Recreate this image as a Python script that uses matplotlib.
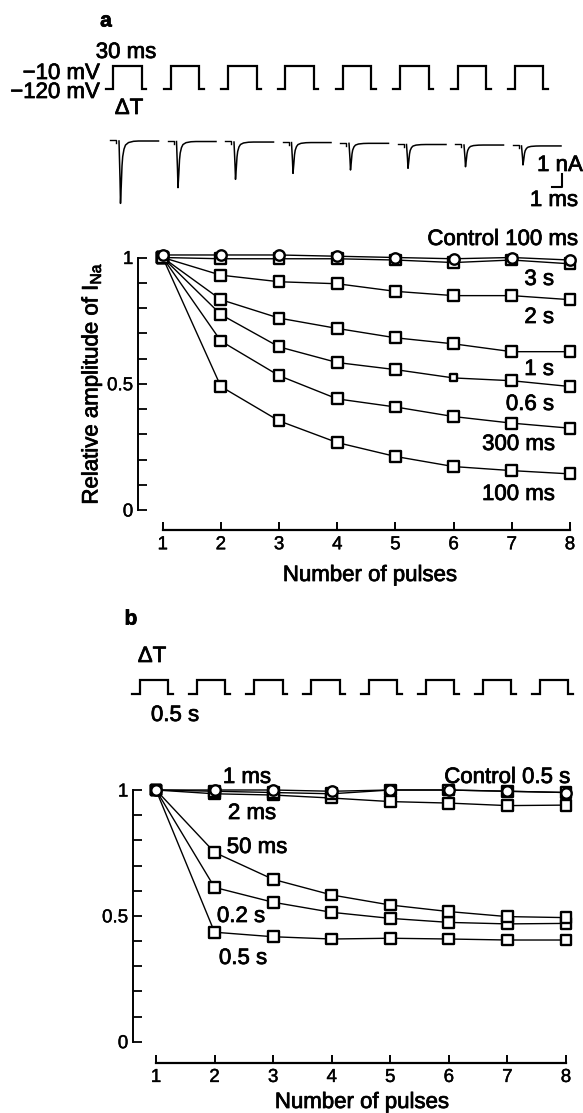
import matplotlib
matplotlib.use('Agg')
import matplotlib.pyplot as plt
import matplotlib.patheffects as pe
import numpy as np

plt.rcParams['font.family'] = ['Liberation Sans', 'DejaVu Sans']
plt.rcParams['mathtext.fontset'] = 'custom'
plt.rcParams['mathtext.rm'] = 'Liberation Sans'
plt.rcParams['mathtext.it'] = 'Liberation Sans:italic'
plt.rcParams['mathtext.bf'] = 'Liberation Sans:bold'

# ---------------- data ----------------
pulse_numbers = [1, 2, 3, 4, 5, 6, 7, 8]

# panel a : relative I_Na, interval between 30 ms pulses
a_control = [1.01, 1.01, 1.01, 1.005, 1.0, 0.995, 1.0, 0.99]
a_3s = [1.0, 0.995, 0.995, 0.995, 0.99, 0.98, 0.99, 0.975]
a_2s = [1.0, 0.930, 0.904, 0.896, 0.866, 0.849, 0.849, 0.833]
a_1s = [1.0, 0.833, 0.760, 0.719, 0.682, 0.658, 0.627, 0.627]
a_06s = [1.0, 0.774, 0.646, 0.584, 0.556, 0.523, 0.512, 0.489]
a_300ms = [1.0, 0.669, 0.532, 0.440, 0.408, 0.370, 0.344, 0.324]
a_100ms = [1.0, 0.489, 0.353, 0.267, 0.212, 0.172, 0.156, 0.143]

# panel b : relative I_Na, 0.5 s pulses with various intervals
b_control = [1.0, 1.0, 1.0, 0.995, 1.0, 1.0, 0.995, 0.99]
b_1ms = [1.0, 0.995, 0.99, 0.985, 1.0, 1.0, 0.995, 0.99]
b_2ms = [1.0, 0.985, 0.98, 0.968, 0.954, 0.948, 0.938, 0.94]
b_50ms = [1.0, 0.752, 0.645, 0.583, 0.543, 0.517, 0.497, 0.493]
b_02s = [1.0, 0.613, 0.554, 0.514, 0.490, 0.474, 0.468, 0.470]
b_05s = [1.0, 0.435, 0.417, 0.408, 0.411, 0.408, 0.404, 0.404]

# current traces (panel a inset)
peak_nA = [4.8, 3.55, 2.87, 2.37, 2.05, 1.83, 1.67, 1.46]
baseline_nA = [0.0, -0.04, -0.08, -0.12, -0.18, -0.27, -0.31, -0.38]
trace_t_ms = [-0.15, -0.05, 0.0, 0.08, 0.15, 0.22, 0.35, 0.5, 0.8, 1.3, 1.8, 3.8]
trace_shape = [0.0, -0.6, -1.0, -0.7, -0.4, -0.25, -0.13, -0.065, -0.025, -0.005, 0.0, 0.0]
trace_spacing_ms = 5.75

# voltage protocol
v_hold, v_test = -120, -10
pulse_width_ms = 30
pulse_interval_a = 60.4
pulse_interval_b = 60.6

# ---------------- figure ----------------
W, H = 583, 1113
fig = plt.figure(figsize=(W / 100, H / 100), dpi=100)
BOLDEN = [pe.withStroke(linewidth=0.55, foreground='black')]


def px_ax(left, top, right, bottom, xref, yref):
    ax = fig.add_axes([left / W, 1 - bottom / H, (right - left) / W, (bottom - top) / H])
    d0, p0, d1, p1 = xref
    s = (d1 - d0) / (p1 - p0)
    ax.set_xlim(d0 + (left - p0) * s, d0 + (right - p0) * s)
    d0, p0, d1, p1 = yref
    s = (d1 - d0) / (p1 - p0)
    ax.set_ylim(d0 + (bottom - p0) * s, d0 + (top - p0) * s)
    return ax


def ftxt(x, y, s, ha='center', size=16, **kw):
    fig.text(x / W, 1 - y / H, s, ha=ha, va='center_baseline', fontsize=size,
             path_effects=BOLDEN, **kw)


def pulse_train(ax, interval, n=8, pre=7.4, post=4.7):
    for k in range(n):
        t0 = k * interval
        xs = [t0 - pre, t0, t0, t0 + pulse_width_ms, t0 + pulse_width_ms, t0 + pulse_width_ms + post]
        ys = [v_hold, v_hold, v_test, v_test, v_hold, v_hold]
        ax.plot(xs, ys, color='black', lw=1.6, solid_joinstyle='miter')
    ax.axis('off')


# ---- pulse trains ----
axp_a = px_ax(0, 55, W, 100, (0, 113.3, 30, 141.8), (v_hold, 89.3, v_test, 65.7))
pulse_train(axp_a, pulse_interval_a)
axp_b = px_ax(0, 670, W, 705, (0, 140, 30, 168.3), (v_hold, 694, v_test, 680))
pulse_train(axp_b, pulse_interval_b, pre=8.5, post=5.0)

# ---- current traces ----
axt = px_ax(0, 125, W, 215, (0, 120.5, 1, 130.5), (0, 141, -1, 154))
tt = np.array(trace_t_ms)
sh = np.array(trace_shape)
for k in range(8):
    t0 = k * trace_spacing_ms
    axt.plot(t0 + tt, baseline_nA[k] + peak_nA[k] * sh, color='black', lw=1.1)
    axt.plot(t0 + np.array([-1.05, -0.45, -0.45]),
             baseline_nA[k] + np.array([0.05, 0.05, -0.17]), color='black', lw=1.0)
# scale bar 1 nA / 1 ms
sb_t, sb_i = 44.12, -3.51
axt.plot([sb_t - 1, sb_t, sb_t], [sb_i, sb_i, sb_i + 1], color='black', lw=1.5)
axt.axis('off')


# ---- plot panels ----
def style_axes(ax, outward_px):
    for s in ['top', 'right']:
        ax.spines[s].set_visible(False)
    ax.spines['left'].set_bounds(0, 1)
    ax.spines['bottom'].set_bounds(1, 8)
    ax.spines['bottom'].set_position(('outward', outward_px * 0.72))
    ax.spines['left'].set_linewidth(1.4)
    ax.spines['bottom'].set_linewidth(1.6)
    ax.set_yticks(np.arange(0, 1.001, 0.1))
    ax.set_yticklabels(['0', '', '', '', '', '0.5', '', '', '', '', '1'])
    ax.set_xticks(pulse_numbers)
    ax.set_xticklabels([str(p) for p in pulse_numbers])
    ax.tick_params(axis='y', direction='in', length=6.5, width=1.3, pad=3.6, labelsize=13.5)
    ax.tick_params(axis='x', direction='in', length=6, width=1.4, pad=4.5, labelsize=13.5)
    for lab in ax.get_xticklabels() + ax.get_yticklabels():
        lab.set_path_effects([pe.withStroke(linewidth=0.3, foreground='black')])
    ax.patch.set_visible(False)


def draw_series(ax, squares, circles, small=None):
    for ys in squares + circles:
        ax.plot(pulse_numbers, ys, color='black', lw=1.0, zorder=2, clip_on=False)
    for i, ys in enumerate(squares):
        sizes = [7.8 ** 2] * len(ys)
        if small is not None and small[0] == i:
            sizes[small[1]] = 5.0 ** 2
        ax.scatter(pulse_numbers, ys, s=sizes, marker='s', facecolor='white',
                   edgecolor='black', linewidths=1.7, zorder=3, clip_on=False)
    for ys in circles:
        ax.scatter(pulse_numbers, ys, s=7.5 ** 2, marker='o', facecolor='white',
                   edgecolor='black', linewidths=1.7, zorder=4, clip_on=False)


ax_a = px_ax(138.3, 257.5, W, 510, (1, 162.7, 8, 570), (0, 510, 1, 257.5))
style_axes(ax_a, 20)
draw_series(ax_a, [a_100ms, a_300ms, a_06s, a_1s, a_2s, a_3s], [a_control], small=(2, 5))

ax_b = px_ax(133.3, 790, W, 1041.7, (1, 156, 8, 566), (0, 1041.7, 1, 790))
style_axes(ax_b, 21)
draw_series(ax_b, [b_05s, b_02s, b_50ms, b_2ms, b_1ms], [b_control])

# ---- texts ----
ftxt(106, 19, 'a', size=15, fontweight='bold')
ftxt(126, 50, '30 ms')
ftxt(100, 71, '\u221210 mV', ha='right')
ftxt(100, 90, '\u2212120 mV', ha='right')
ftxt(129, 106, '\u0394T')
ftxt(560, 163, '1 nA')
ftxt(554, 198, '1 ms')

ftxt(578, 237, 'Control 100 ms', ha='right')
ftxt(554, 277, '3 s', ha='right')
ftxt(554, 315, '2 s', ha='right')
ftxt(554, 367, '1 s', ha='right')
ftxt(554, 402, '0.6 s', ha='right')
ftxt(555, 442, '300 ms', ha='right')
ftxt(555, 492, '100 ms', ha='right')
fig.text(92 / W, 1 - 383.5 / H, 'Relative amplitude of I$_{\\rm Na}$', rotation=90,
         ha='center', va='center', fontsize=16, path_effects=BOLDEN)
ftxt(370, 573, 'Number of pulses')

ftxt(131, 617, 'b', size=15, fontweight='bold')
ftxt(152, 654, '\u0394T')
ftxt(175, 713, '0.5 s')
ftxt(247, 775, '1 ms')
ftxt(570, 775, 'Control 0.5 s', ha='right')
ftxt(252, 811, '2 ms')
ftxt(257, 845, '50 ms')
ftxt(241, 914, '0.2 s')
ftxt(243, 956, '0.5 s')
ftxt(362, 1100, 'Number of pulses')

fig.savefig('out.png', dpi=100)
